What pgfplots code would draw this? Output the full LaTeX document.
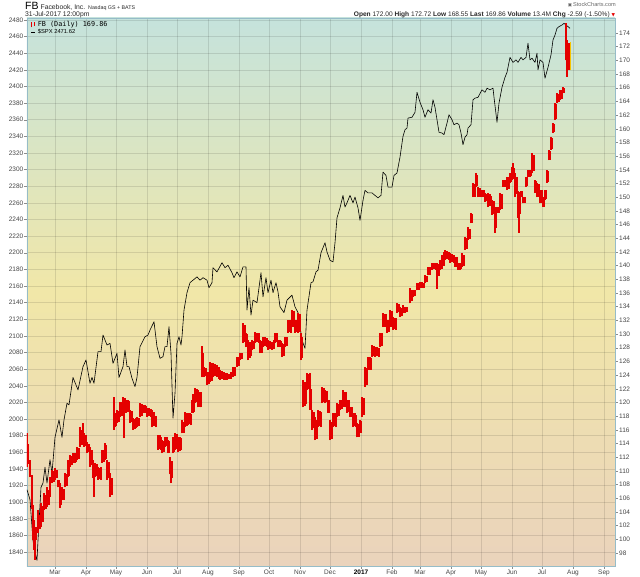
\documentclass[border=0pt]{standalone}
\usepackage{pgfplots}
\pgfplotsset{compat=1.18}
\usepackage{pgfplotstable}
\usepackage{fontspec}
\setmainfont{Liberation Sans}
\newfontfamily\dejavu{DejaVu Sans}
\newfontfamily\mono{DejaVu Sans Mono}
\definecolor{bgtop}{RGB}{197,227,220}
\definecolor{bgmid}{RGB}{241,231,168}
\definecolor{bgbot}{RGB}{234,211,188}
\definecolor{framec}{RGB}{150,188,200}
\definecolor{fbred}{RGB}{228,0,0}
\definecolor{fbpink}{RGB}{236,150,140}
\definecolor{lastbar}{RGB}{245,196,0}
\definecolor{ticktxt}{RGB}{70,70,70}

\pgfplotstableread[row sep=\\]{
d lo hi\\
32 110.6 115.5\\ 33 111.0 114.0\\ 35 109.1 111.6\\ 37 104.5 109.4\\ 38 99.9 105.0\\ 39 98.5 102.8\\ 40 97.0 101.5\\ 41 99.9 101.8\\
43 100.9 104.3\\ 45 101.5 103.5\\ 46 101.8 105.3\\ 48 102.5 104.8\\ 49 104.3 106.8\\ 51 104.5 106.5\\ 52 104.7 107.6\\ 54 105.0 107.2\\
55 106.2 109.1\\ 57 108.2 110.1\\ 59 108.4 110.0\\ 60 108.7 110.4\\ 62 108.9 110.2\\ 63 107.6 108.7\\ 64 107.6 108.7\\ 65 104.6 108.2\\
66 105.0 107.5\\ 67 105.7 107.6\\ 69 105.8 107.4\\ 70 107.6 109.7\\ 72 107.8 109.5\\ 73 109.1 111.6\\ 74 109.3 111.4\\ 75 110.6 112.3\\
77 110.8 112.2\\ 78 111.2 112.6\\ 80 111.2 112.6\\ 81 111.3 112.4\\ 82 111.6 113.5\\ 84 111.8 113.4\\ 85 113.5 116.4\\ 87 113.8 116.0\\
88 114.5 117.0\\ 89 113.5 115.5\\ 91 113.6 115.3\\ 92 112.6 114.2\\ 94 112.8 114.0\\ 95 110.6 113.5\\ 97 110.8 113.0\\ 98 109.0 111.6\\
99 106.2 111.0\\ 100 109.1 111.2\\ 102 109.2 111.0\\ 103 108.7 110.6\\ 105 108.8 110.4\\ 106 108.7 110.6\\ 107 111.2 113.1\\ 109 111.3 113.0\\
110 111.6 114.1\\ 111 111.8 113.8\\ 112 108.7 111.6\\ 114 108.9 111.3\\ 115 106.2 109.7\\ 117 106.5 109.0\\
119 116.0 120.8\\ 120 116.4 118.5\\ 121 116.5 118.4\\ 122 117.0 118.9\\ 124 117.1 118.8\\ 125 117.9 120.1\\ 127 118.0 120.0\\ 128 118.9 120.8\\
129 114.8 120.6\\ 130 119.0 120.7\\ 131 118.5 120.4\\ 133 118.6 120.3\\ 134 118.6 120.2\\ 135 117.0 118.9\\ 137 117.1 118.8\\ 138 116.0 117.7\\
140 116.1 117.6\\ 141 116.2 117.7\\ 142 116.4 117.9\\ 144 116.5 117.8\\ 145 117.9 119.9\\ 147 118.0 119.8\\ 148 118.5 119.6\\ 150 118.5 119.6\\
151 118.6 119.5\\ 152 117.9 119.2\\ 154 118.0 119.2\\ 156 117.9 119.1\\ 157 116.4 118.9\\ 159 116.6 118.6\\ 161 116.4 118.0\\
163 113.1 115.3\\ 165 113.2 115.2\\ 166 113.1 115.0\\ 167 112.6 114.5\\ 169 112.7 114.4\\ 170 113.5 115.0\\ 172 113.6 114.9\\ 173 112.6 114.5\\
174 112.6 114.4\\ 175 109.5 112.0\\ 176 108.2 111.0\\ 177 109.0 111.5\\ 178 112.6 115.0\\ 179 112.8 114.8\\ 180 113.1 115.5\\ 182 113.2 115.4\\
183 112.8 115.0\\ 185 112.9 114.9\\ 186 113.0 114.8\\ 187 115.5 117.4\\ 189 115.6 117.2\\ 190 116.4 118.6\\ 192 116.5 118.5\\ 193 116.7 118.5\\
195 116.8 118.4\\ 196 116.7 118.3\\ 197 118.5 120.4\\ 198 118.5 121.3\\ 199 118.6 120.2\\ 200 119.9 122.1\\ 202 120.0 122.0\\ 203 119.3 121.8\\
205 119.4 121.6\\ 206 119.3 121.5\\ 207 123.7 128.3\\ 208 123.7 127.2\\ 209 123.7 125.2\\ 211 123.8 125.1\\ 212 122.6 124.5\\ 214 122.7 124.4\\
215 123.0 125.9\\ 217 123.2 125.7\\ 218 123.7 125.8\\ 220 123.8 125.6\\ 222 123.7 125.5\\ 224 123.5 125.2\\ 225 123.3 124.7\\ 227 123.4 124.6\\
229 123.3 124.5\\ 230 123.3 124.3\\ 232 123.3 124.3\\ 234 123.4 124.2\\ 236 123.5 124.5\\ 238 123.7 125.2\\ 240 123.9 125.2\\ 242 125.2 126.7\\
244 125.3 126.6\\ 245 126.2 127.2\\ 247 126.3 127.2\\ 248 128.7 131.6\\ 250 128.9 131.3\\ 251 128.1 130.2\\ 252 128.2 130.0\\ 253 126.2 129.1\\
255 126.5 128.8\\ 256 126.8 128.6\\ 257 127.7 129.1\\ 259 127.8 129.0\\ 260 128.7 130.3\\ 262 128.8 130.2\\ 264 128.7 130.1\\ 265 127.2 129.1\\
267 127.3 129.0\\ 268 128.1 129.6\\ 270 128.2 129.5\\ 272 128.1 129.4\\ 273 127.7 129.1\\ 275 127.8 129.0\\ 277 127.7 128.9\\ 279 127.8 129.1\\
280 128.7 130.2\\ 282 128.8 130.1\\ 283 128.1 129.1\\ 285 128.1 129.1\\ 286 128.2 129.0\\ 287 126.7 128.7\\ 289 126.8 128.5\\ 290 128.1 129.6\\
292 128.2 129.5\\ 293 130.2 132.1\\ 295 130.3 132.0\\ 296 130.2 131.9\\ 297 131.0 133.5\\ 299 131.1 133.3\\ 300 130.2 132.1\\ 302 130.3 132.0\\
303 130.2 133.1\\ 305 130.3 132.9\\ 306 126.2 130.2\\ 307 126.5 129.5\\
308 119.3 123.3\\ 310 119.5 123.0\\ 311 119.8 122.8\\ 312 121.8 124.3\\ 314 121.9 124.1\\ 315 118.9 124.3\\ 316 118.9 122.0\\ 317 116.0 118.9\\
319 116.2 118.6\\ 320 114.5 117.9\\ 322 114.7 117.5\\ 323 116.4 118.9\\ 325 116.5 118.8\\ 326 116.4 118.6\\ 327 119.9 122.3\\ 329 120.0 122.1\\
330 119.9 121.8\\ 332 120.0 121.7\\ 333 118.5 120.4\\ 334 118.5 120.3\\ 335 114.5 117.4\\ 337 114.7 117.2\\ 338 116.4 118.5\\ 340 116.5 118.4\\
341 116.4 118.3\\ 342 117.9 119.9\\ 344 118.0 119.8\\ 345 118.9 120.4\\ 347 119.0 120.3\\ 348 119.3 121.8\\ 350 119.4 121.6\\ 351 119.3 121.5\\
352 118.5 120.4\\ 354 118.6 120.3\\ 355 117.9 119.3\\ 357 117.9 119.3\\ 358 116.4 118.5\\ 360 116.5 118.4\\ 361 116.4 118.2\\ 362 114.9 117.0\\
364 115.0 116.9\\ 365 115.5 117.4\\ 366 115.6 117.3\\ 367 117.9 120.8\\ 369 118.2 120.6\\ 370 122.3 125.2\\ 372 122.5 125.0\\ 373 124.7 126.7\\
375 124.8 126.6\\ 376 124.8 126.5\\ 377 126.7 128.4\\ 379 126.8 128.3\\ 380 126.7 128.1\\ 382 126.8 128.1\\ 384 126.7 128.0\\ 385 128.1 130.2\\
387 128.2 130.1\\ 388 131.0 133.1\\ 390 131.1 133.0\\ 391 131.0 132.9\\ 392 130.2 132.1\\ 394 130.3 132.0\\ 395 131.0 133.5\\ 397 131.1 133.3\\
398 130.6 132.5\\ 400 130.7 132.4\\ 401 130.6 132.3\\ 402 133.1 134.5\\ 404 133.2 134.4\\ 405 132.5 133.9\\ 407 132.6 133.8\\ 408 133.1 134.2\\
410 133.1 134.0\\ 412 133.2 134.0\\ 415 134.5 136.7\\ 417 134.8 136.5\\ 418 135.4 136.4\\ 420 135.5 136.4\\ 422 136.4 137.5\\ 424 136.5 137.4\\
425 136.7 137.6\\ 427 136.8 137.6\\ 429 136.7 137.5\\ 430 137.5 138.6\\ 432 137.6 138.5\\ 433 138.6 139.8\\ 435 138.7 139.8\\ 437 139.4 140.4\\
439 139.5 140.4\\ 441 139.4 140.4\\ 442 136.6 140.4\\ 444 138.5 140.2\\ 445 139.4 140.8\\ 447 139.5 141.5\\ 449 140.0 142.0\\ 450 140.8 142.3\\
452 140.9 142.2\\ 454 140.8 142.0\\ 455 140.4 141.8\\ 457 140.5 141.7\\ 459 140.4 141.6\\ 460 139.8 141.3\\ 462 139.8 141.2\\ 463 139.4 140.4\\
465 139.4 140.4\\ 466 139.5 140.3\\ 467 139.8 141.8\\ 469 140.0 141.6\\ 470 142.3 144.2\\ 472 142.5 144.0\\ 473 143.7 145.6\\ 475 143.9 145.4\\
476 146.2 147.7\\ 477 146.3 147.6\\ 478 150.0 152.1\\ 480 150.1 152.0\\ 481 151.5 153.5\\ 482 151.6 153.3\\ 483 150.0 151.5\\ 485 150.1 151.4\\
486 150.0 151.1\\ 488 150.0 151.0\\ 489 150.1 151.0\\ 490 149.3 150.6\\ 492 149.4 150.5\\ 493 148.6 150.6\\ 495 148.7 150.4\\ 496 148.8 150.2\\
497 147.4 149.6\\ 499 147.5 149.4\\ 500 144.8 148.6\\ 501 145.5 148.4\\ 502 147.7 148.6\\ 504 147.7 148.6\\ 505 148.1 150.6\\ 507 148.3 150.4\\
508 151.5 152.5\\ 510 151.5 152.5\\ 511 151.6 152.4\\ 512 151.1 153.0\\ 514 151.2 152.9\\ 515 152.1 153.5\\ 516 152.2 153.4\\ 517 152.5 154.4\\
518 152.6 155.0\\ 519 152.7 154.2\\ 520 150.0 153.5\\ 522 150.5 153.0\\ 523 147.0 150.9\\ 524 144.8 150.5\\ 525 147.5 150.7\\ 526 150.0 150.9\\
527 150.0 150.9\\ 528 149.1 150.0\\ 530 149.2 150.0\\ 531 151.5 153.0\\ 532 151.6 152.9\\ 533 153.0 154.0\\ 535 153.0 154.0\\ 536 153.1 154.0\\
537 153.5 156.5\\ 539 153.8 156.2\\ 540 150.6 152.5\\ 541 150.7 152.4\\ 542 150.0 152.1\\ 544 150.1 152.0\\ 545 149.1 151.1\\ 547 149.2 151.0\\
548 148.6 150.0\\ 549 148.6 150.0\\ 550 149.6 151.1\\ 551 149.7 151.0\\ 552 152.1 154.0\\ 553 152.2 153.9\\ 554 155.4 156.9\\ 555 155.5 156.8\\
556 156.9 158.8\\ 557 157.0 158.7\\ 558 159.4 160.8\\ 559 159.5 160.7\\ 560 161.3 163.8\\ 561 161.5 163.6\\ 562 163.8 165.2\\ 564 163.9 165.1\\
565 164.2 165.7\\ 567 164.3 165.6\\ 568 165.2 166.1\\ 569 165.3 166.0\\ 571 170.0 175.5\\ 572 167.6 173.0\\ 573 168.6 172.5\\ 574 168.6 172.5\\
}\fbdata

\pgfplotstableread[row sep=\\]{
d lo hi\\
575.5 168.55 172.72\\
}\fblast

\begin{document}
\begin{tikzpicture}
\useasboundingbox (0,0) rectangle (640pt,576pt);

% ---------- SPX (left axis) ----------
\begin{axis}[
  at={(27pt,10pt)}, anchor=south west,
  scale only axis, width=588pt, height=548pt,
  xmin=32, xmax=620, ymin=1823.2, ymax=2482.4,
  axis background/.style={top color=bgtop, bottom color=bgbot, middle color=bgmid},
  axis line style={framec, line width=0.8pt},
  xtick={60,91,121,152,182,213,244,274,305,335,366,397,425,456,486,517,547,578,609},
  xticklabels={Mar,Apr,May,Jun,Jul,Aug,Sep,Oct,Nov,Dec,{\textcolor{black}{\bfseries 2017}},Feb,Mar,Apr,May,Jun,Jul,Aug,Sep},
  ytick={1840,1860,...,2480},
  xtick pos=bottom, ytick pos=left,
  tick align=outside, major tick length=2.5pt,
  tick style={black!45, line width=0.4pt},
  grid=major, grid style={black, opacity=0.11, line width=0.6pt},
  /pgf/number format/assume math mode=true,
  /pgf/number format/1000 sep={},
  yticklabel style={font=\fontsize{6.5}{7}\selectfont, text=ticktxt, inner sep=1pt},
  xticklabel style={font=\fontsize{6.5}{7}\selectfont, text=ticktxt, inner sep=1.5pt},
  legend style={at={(rel axis cs:0.004,0.998)}, anchor=north west, draw=none, fill=none,
     inner xsep=1pt, inner ysep=0pt, row sep=-2.5pt, cells={anchor=west},
     /tikz/every even column/.append style={column sep=1pt}},
  clip=true,
]
\addlegendimage{legend image code/.code={
  \draw[fbred, line width=1.1pt] (1pt,-2.5pt) -- (1pt,2.5pt);
  \draw[fbred, line width=1.1pt] (3.5pt,-1.5pt) -- (3.5pt,3pt);}}
\addlegendentry{\mono\fontsize{6.8}{7}\selectfont FB (Daily) 169.86}
\addplot[black, line width=0.6pt, line join=round, mark=none,
  legend image code/.code={\draw[black, line width=1.3pt] (0.5pt,0pt) -- (4.5pt,0pt);}]
coordinates {
(32,1915) (35,1903) (38,1854) (40,1839) (42,1830) (43,1854) (46,1918) (48,1923) (50,1942) (52,1923)
(55,1951) (57,1935) (60,1978) (64,1999) (67,1978) (69,1999) (72,2019) (74,2017) (78,2050) (83,2035)
(88,2063) (91,2071) (95,2043) (97,2050) (99,2043) (103,2081) (106,2081) (108,2101) (112,2089) (115,2091)
(118,2067) (122,2079) (124,2050) (128,2063) (130,2083) (132,2063) (134,2063) (137,2049) (140,2039) (142,2050)
(145,2087) (150,2099) (153,2101) (155,2107) (159,2117) (162,2087) (165,2073) (168,2075) (170,2087) (172,2087)
(174,2111) (176,2079) (178,2001) (180,2031) (182,2091) (184,2099) (186,2089) (187,2099) (189,2131) (192,2152)
(195,2164) (198,2167) (202,2171) (205,2167) (208,2170) (212,2167) (214,2158) (217,2164) (218,2182) (222,2177)
(227,2188) (230,2182) (233,2185) (237,2176) (239,2170) (242,2177) (245,2171) (248,2183) (251,2183) (252,2131)
(254,2158) (256,2125) (258,2143) (262,2140) (266,2176) (268,2147) (271,2170) (273,2152) (276,2167) (278,2152)
(281,2164) (283,2153) (285,2135) (289,2128) (292,2143) (297,2149) (300,2135) (303,2128) (307,2095) (310,2085)
(312,2131) (316,2164) (318,2165) (321,2177) (323,2179) (326,2200) (330,2212) (332,2201) (335,2191) (338,2189)
(340,2212) (342,2242) (345,2254) (348,2269) (350,2255) (352,2260) (355,2269) (358,2260) (360,2267) (363,2254)
(365,2239) (368,2263) (370,2275) (373,2272) (377,2272) (380,2269) (383,2266) (386,2269) (388,2297) (391,2293)
(393,2279) (397,2279) (399,2293) (402,2296) (405,2315) (408,2340) (410,2348) (412,2350) (413,2362) (417,2363)
(420,2369) (422,2393) (425,2381) (428,2372) (430,2363) (433,2372) (436,2368) (438,2384) (440,2375) (442,2360)
(444,2345) (447,2344) (449,2342) (452,2356) (454,2366) (457,2360) (459,2354) (462,2356) (464,2354) (466,2344)
(468,2330) (470,2339) (472,2342) (473,2350) (476,2354) (478,2384) (480,2386) (483,2387) (487,2396) (490,2393)
(492,2398) (495,2396) (498,2398) (499,2387) (502,2357) (504,2380) (507,2399) (510,2411) (512,2417) (515,2435)
(518,2429) (521,2432) (523,2429) (526,2435) (528,2432) (531,2435) (533,2452) (535,2432) (537,2434) (540,2429)
(542,2440) (543,2420) (545,2432) (548,2429) (550,2410) (553,2423) (556,2438) (558,2456) (560,2462) (562,2470)
(564,2472) (567,2474) (569,2476) (571,2474) (573,2472) (575,2470)
};
\addlegendentry{\fontsize{5.8}{6}\selectfont \$SPX 2471.62}
\end{axis}

% ---------- FB (right axis) ----------
\begin{axis}[
  at={(27pt,10pt)}, anchor=south west,
  scale only axis, width=588pt, height=548pt,
  xmin=32, xmax=620, ymin=96.1, ymax=176.19,
  axis x line=none, axis y line*=right,
  axis line style={framec, line width=0.8pt},
  ytick={98,100,...,174},
  tick align=outside, major tick length=2.5pt,
  tick style={black!45, line width=0.4pt},
  /pgf/number format/assume math mode=true,
  yticklabel style={font=\fontsize{6.5}{7}\selectfont, text=ticktxt, inner sep=1.5pt},
  clip=true,
]
\addplot[draw=none, mark=none, forget plot,
  error bars/.cd, y dir=plus, y explicit, error mark=none,
  error bar style={draw=fbpink, line width=2.6pt, solid}]
  table[x=d, y=lo, y error expr=\thisrow{hi}-\thisrow{lo}] {\fbdata};
\addplot[draw=none, mark=none, forget plot,
  error bars/.cd, y dir=plus, y explicit, error mark=none,
  error bar style={draw=fbred, line width=1.7pt, solid}]
  table[x=d, y=lo, y error expr=\thisrow{hi}-\thisrow{lo}] {\fbdata};
\addplot[draw=none, mark=none, forget plot,
  error bars/.cd, y dir=plus, y explicit, error mark=none,
  error bar style={draw=lastbar, line width=1.6pt, solid}]
  table[x=d, y=lo, y error expr=\thisrow{hi}-\thisrow{lo}] {\fblast};
\node[draw=black, fill=white, rounded corners=1.5pt, anchor=west, inner xsep=1.5pt, inner ysep=1pt,
  font=\fontsize{7}{7}\selectfont, xshift=2pt] at (rel axis cs:1,0.98365) {2471.62};
\node[draw=fbred, fill=white, rounded corners=1.5pt, anchor=west, inner xsep=1.5pt, inner ysep=1pt,
  font=\fontsize{7}{7}\selectfont\bfseries, xshift=2pt] at (axis cs:620,169.86) {169.86};
\end{axis}

% ---------- header ----------
\node[anchor=base west, inner sep=0pt] at (25pt,566pt)
  {\fontsize{10.5}{11}\selectfont FB\hspace{2pt}\fontsize{6.8}{7}\selectfont\color{black!85} Facebook, Inc.\hspace{3pt}\fontsize{5.3}{6}\selectfont Nasdaq GS + BATS};
\node[anchor=base west, inner sep=0pt] at (25pt,559pt)
  {\fontsize{6.8}{7}\selectfont\color{black!85} 31-Jul-2017 12:00pm};
\node[anchor=base east, inner sep=0pt] at (616pt,569.5pt)
  {\fontsize{5.6}{6}\selectfont\color{black!60}{\dejavu\fontsize{4.5}{5}\selectfont ▣}\,StockCharts.com};
\node[anchor=base east, inner sep=0pt] at (610pt,559pt)
  {\fontsize{6.6}{7}\selectfont\color{black!85}\textbf{Open} 172.00 \textbf{High} 172.72 \textbf{Low} 168.55 \textbf{Last} 169.86 \textbf{Volume} 13.4M \textbf{Chg} -2.59 (-1.50\%)};
\node[anchor=base west, inner sep=0pt] at (611.5pt,559pt)
  {\dejavu\fontsize{4.5}{5}\selectfont\color{fbred}▼};
\end{tikzpicture}
\end{document}
